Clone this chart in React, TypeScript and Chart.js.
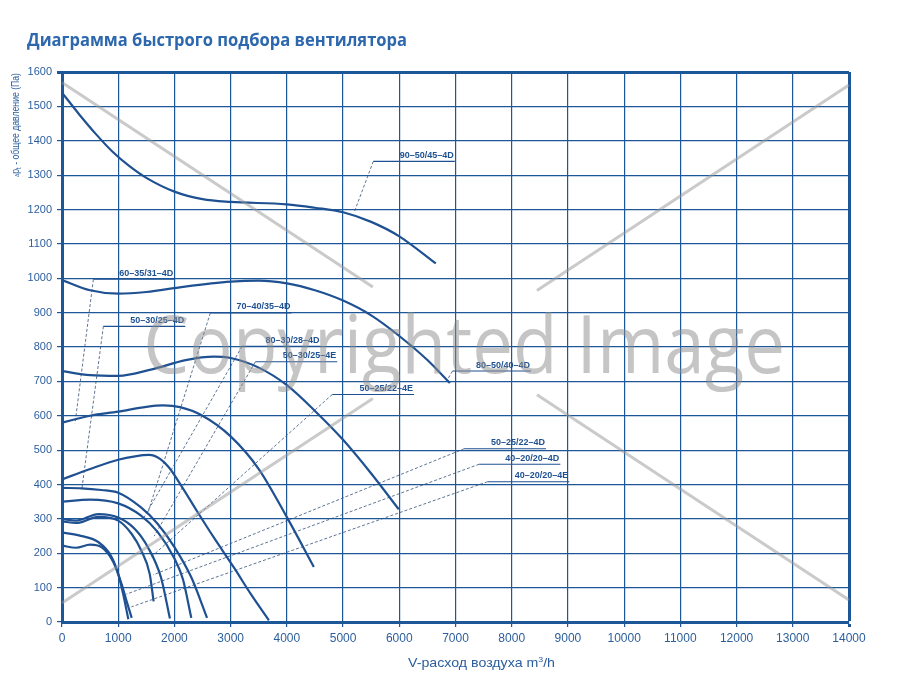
import React, { useEffect, useRef } from "react";
import { Chart, registerables } from "chart.js";

Chart.register(...registerables);

// ---------- texts ----------
const TITLE = "Диаграмма быстрого подбора вентилятора";
const X_TITLE_MAIN = "V-расход воздуха m";
const X_TITLE_SUP = "3";
const X_TITLE_END = "/h";
const Y_TITLE_DELTA = "Δ";
const Y_TITLE_P = "p";
const Y_TITLE_SUB = "t";
const Y_TITLE_REST = " - общее давление (Па)";
const WATERMARK = "Copyrighted Image";

// ---------- ticks ----------
const xTickValues = [0, 1000, 2000, 3000, 4000, 5000, 6000, 7000, 8000, 9000, 10000, 11000, 12000, 13000, 14000];
const yTickValues = [0, 100, 200, 300, 400, 500, 600, 700, 800, 900, 1000, 1100, 1200, 1300, 1400, 1500, 1600];

// ---------- fan curves (V m3/h , Pa) ----------
const fanA_x = [0, 300, 600, 900, 1200, 1500, 2000, 2500, 3000, 4000, 4500, 5000, 5500, 6000, 6650];
const fanA_y = [1540, 1478, 1420, 1368, 1326, 1292, 1252, 1230, 1222, 1215, 1205, 1192, 1164, 1122, 1043];

const fanB_x = [0, 500, 1000, 1500, 2150, 3000, 3500, 4000, 4500, 5000, 5500, 6000, 6500, 6900];
const fanB_y = [995, 965, 955, 960, 975, 990, 993, 985, 965, 935, 892, 832, 762, 695];

const fanC_x = [0, 500, 1000, 1600, 2200, 2700, 3000, 3500, 4000, 4500, 5000, 5500, 5990];
const fanC_y = [730, 718, 716, 735, 762, 772, 768, 740, 689, 614, 530, 432, 328];

const fanD_x = [0, 500, 1000, 1500, 1800, 2100, 2500, 3000, 3500, 4000, 4480];
const fanD_y = [580, 600, 612, 626, 630, 625, 600, 540, 445, 305, 160];

const fanE_x = [0, 500, 1000, 1300, 1550, 1750, 1900, 2100, 2400, 2700, 3060, 3360, 3680];
const fanE_y = [415, 445, 472, 482, 486, 474, 450, 402, 323, 246, 158, 81, 5];

const fanF_x = [0, 350, 700, 1000, 1400, 1700, 2000, 2300, 2580];
const fanF_y = [390, 389, 384, 376, 334, 286, 218, 130, 12];

const fanG_x = [0, 500, 1000, 1400, 1700, 2000, 2150, 2300];
const fanG_y = [350, 356, 345, 310, 262, 185, 125, 12];

const fanH_x = [0, 250, 650, 1000, 1300, 1530, 1760, 1920];
const fanH_y = [300, 295, 314, 304, 270, 217, 130, 10];

const fanI_x = [0, 250, 650, 1000, 1240, 1410, 1560, 1630];
const fanI_y = [293, 288, 306, 295, 256, 208, 140, 60];

const fanJ_x = [0, 300, 650, 880, 1000, 1090, 1180];
const fanJ_y = [260, 252, 232, 190, 140, 80, 8];

const fanK_x = [0, 250, 500, 700, 910, 1060, 1150, 1240];
const fanK_y = [222, 216, 225, 218, 175, 110, 60, 12];

const curveXs = [fanA_x, fanB_x, fanC_x, fanD_x, fanE_x, fanF_x, fanG_x, fanH_x, fanI_x, fanJ_x, fanK_x];
const curveYs = [fanA_y, fanB_y, fanC_y, fanD_y, fanE_y, fanF_y, fanG_y, fanH_y, fanI_y, fanJ_y, fanK_y];

// ---------- labels (underline start/end, underline level, leader end) ----------
const labelNames = [
  "90–50/45–4D", "60–35/31–4D", "50–30/25–4D", "70–40/35–4D", "80–30/28–4D", "50–30/25–4E",
  "50–25/22–4E", "80–50/40–4D", "50–25/22–4D", "40–20/20–4D", "40–20/20–4E",
];
const labelX1 = [5538, 558, 736, 2638, 3203, 3440, 4808, 6946, 7153, 7421, 7570];
const labelX2 = [6988, 1996, 2193, 4082, 4599, 4896, 6262, 8342, 8610, 8865, 9025];
const labelY = [1340, 997, 860, 899, 802, 757, 662, 730, 504, 459, 408];
const leaderX = [5193, 232, 351, 1530, 1449, 1640, 1560, 6840, 1622, 1146, 1235];
const leaderY = [1190, 578, 384, 318, 301, 250, 185, 700, 137, 81, 44];

// ---------- styles ----------
const GRID = "#1d5798";
const CURVE = "#1f5192";
const TEXT = "#2c5e9c";
const TITLE_COLOR = "#2d68ae";
const LEADER = "#34507a";
const SANS = '"Liberation Sans", Arial, sans-serif';

const extras = {
  id: "extras",
  beforeDraw(chart: any) {
    const ctx = chart.ctx;
    ctx.save();
    ctx.fillStyle = "#ffffff";
    ctx.fillRect(0, 0, chart.width, chart.height);
    ctx.restore();
  },
  afterDatasetsDraw(chart: any) {
    const ctx = chart.ctx;
    const xs = chart.scales.x;
    const ys = chart.scales.y;
    ctx.save();
    ctx.font = `bold 9px ${SANS}`;
    ctx.fillStyle = CURVE;
    ctx.textAlign = "right";
    ctx.textBaseline = "bottom";
    for (let i = 0; i < labelNames.length; i++) {
      const px = xs.getPixelForValue(labelX2[i]) - 1;
      const py = ys.getPixelForValue(labelY[i]) - 1.5;
      ctx.fillText(labelNames[i], px, py);
    }
    ctx.restore();
  },
  afterDraw(chart: any) {
    const ctx = chart.ctx;
    const area = chart.chartArea;
    ctx.save();

    // Title
    ctx.font = `bold 18px "Open Sans", ${SANS}`;
    ctx.fillStyle = TITLE_COLOR;
    ctx.textAlign = "left";
    ctx.textBaseline = "alphabetic";
    const tw = ctx.measureText(TITLE).width;
    ctx.save();
    ctx.translate(27, 46);
    ctx.scale(380 / tw, 1);
    ctx.fillText(TITLE, 0, 0);
    ctx.restore();

    // X axis title
    ctx.fillStyle = TEXT;
    ctx.font = `13px ${SANS}`;
    const w1 = ctx.measureText(X_TITLE_MAIN).width;
    const w3 = ctx.measureText(X_TITLE_END).width;
    ctx.font = `8px ${SANS}`;
    const w2 = ctx.measureText(X_TITLE_SUP).width;
    const totX = w1 + w2 + w3;
    ctx.save();
    ctx.translate(408, 667);
    ctx.scale(147 / totX, 1);
    ctx.font = `13px ${SANS}`;
    ctx.fillText(X_TITLE_MAIN, 0, 0);
    ctx.font = `8px ${SANS}`;
    ctx.fillText(X_TITLE_SUP, w1, -5);
    ctx.font = `13px ${SANS}`;
    ctx.fillText(X_TITLE_END, w1 + w2, 0);
    ctx.restore();

    // Y axis title (rotated)
    const parts = [
      { t: Y_TITLE_DELTA, s: 6, dy: 0 },
      { t: Y_TITLE_P, s: 10.5, dy: 0 },
      { t: Y_TITLE_SUB, s: 7, dy: 2.5 },
      { t: Y_TITLE_REST, s: 10.5, dy: 0 },
    ];
    let totY = 0;
    const widths: number[] = [];
    for (const p of parts) {
      ctx.font = `${p.s}px ${SANS}`;
      const w = ctx.measureText(p.t).width;
      widths.push(w);
      totY += w;
    }
    ctx.save();
    ctx.translate(15, 125);
    ctx.rotate(-Math.PI / 2);
    ctx.scale(104 / totY, 1);
    let cur = -totY / 2;
    parts.forEach((p, i) => {
      ctx.font = `${p.s}px ${SANS}`;
      ctx.fillText(p.t, cur, 3.5 + p.dy);
      cur += widths[i];
    });
    ctx.restore();

    // Watermark diagonals
    const L = area.left, R = area.right, T = area.top, B = area.bottom;
    const W = R - L;
    const g1 = 0.395, g2 = 0.6035;
    const line = (x0: number, y0: number, x1: number, y1: number) => {
      const at = (f: number) => [x0 + (x1 - x0) * f, y0 + (y1 - y0) * f];
      const a = at(0), b = at(g1), c = at(g2), d = at(1);
      ctx.beginPath();
      ctx.moveTo(a[0], a[1]);
      ctx.lineTo(b[0], b[1]);
      ctx.moveTo(c[0], c[1]);
      ctx.lineTo(d[0], d[1]);
      ctx.stroke();
    };
    ctx.strokeStyle = "rgba(150,150,150,0.5)";
    ctx.lineWidth = 3;
    line(L, T + 10.5, R, B - 22);
    line(L, B - 19, R, T + 13);

    // Watermark text
    ctx.fillStyle = "rgba(140,140,140,0.5)";
    ctx.font = `80px "Open Sans", ${SANS}`;
    const ww = ctx.measureText(WATERMARK).width;
    ctx.save();
    ctx.translate(L + 0.1032 * W, 373);
    ctx.scale(642 / ww, 1);
    ctx.fillText(WATERMARK, 0, 0);
    ctx.restore();

    ctx.restore();
  },
};

export default function App() {
  const ref = useRef<HTMLCanvasElement | null>(null);

  useEffect(() => {
    if (!ref.current) return;
    const datasets: any[] = [];
    curveXs.forEach((xs, i) => {
      datasets.push({
        data: xs.map((x, j) => ({ x, y: curveYs[i][j] })),
        borderColor: CURVE,
        borderWidth: 2.2,
        pointRadius: 0,
        fill: false,
        cubicInterpolationMode: "monotone",
      });
    });
    labelNames.forEach((_, i) => {
      datasets.push({
        data: [
          { x: labelX1[i], y: labelY[i] },
          { x: labelX2[i], y: labelY[i] },
        ],
        borderColor: CURVE,
        borderWidth: 1.1,
        pointRadius: 0,
        fill: false,
      });
    });
    labelNames.forEach((_, i) => {
      datasets.push({
        data: [
          { x: labelX1[i], y: labelY[i] },
          { x: leaderX[i], y: leaderY[i] },
        ],
        borderColor: LEADER,
        borderWidth: 0.8,
        borderDash: [3, 2],
        pointRadius: 0,
        fill: false,
      });
    });

    const chart = new Chart(ref.current, {
      type: "line",
      data: { datasets },
      plugins: [extras],
      options: {
        responsive: false,
        animation: false,
        devicePixelRatio: 1,
        events: [],
        layout: { padding: { top: 72, right: 67, left: 0, bottom: 0 } },
        plugins: { legend: { display: false }, tooltip: { enabled: false } },
        scales: {
          x: {
            type: "linear",
            min: 0,
            max: 14000,
            afterBuildTicks: (s: any) => {
              s.ticks = xTickValues.map((v) => ({ value: v }));
            },
            afterFit: (s: any) => {
              s.height = 64;
            },
            ticks: {
              autoSkip: false,
              maxRotation: 0,
              padding: 4,
              color: TEXT,
              font: { family: SANS, size: 12 },
              callback: (v: any) => String(v),
            },
            grid: {
              color: GRID,
              lineWidth: (c: any) => (c.tick && c.tick.value === 14000 ? 3 : 1.2),
              tickLength: 5,
            },
            border: { color: GRID, width: 3 },
          },
          y: {
            type: "linear",
            min: 0,
            max: 1600,
            afterBuildTicks: (s: any) => {
              s.ticks = yTickValues.map((v) => ({ value: v }));
            },
            afterFit: (s: any) => {
              s.width = 62;
            },
            ticks: {
              autoSkip: false,
              padding: 5,
              color: TEXT,
              font: { family: SANS, size: 11 },
              callback: (v: any) => String(v),
            },
            grid: {
              color: GRID,
              lineWidth: (c: any) => (c.tick && c.tick.value === 1600 ? 3 : 1.2),
              tickLength: 5,
            },
            border: { color: GRID, width: 3 },
          },
        },
      } as any,
    });
    return () => chart.destroy();
  }, []);

  return (
    <div style={{ position: "fixed", left: 0, top: 0, width: 916, height: 686 }}>
      <canvas ref={ref} width={916} height={686} style={{ display: "block", width: 916, height: 686 }} />
    </div>
  );
}
